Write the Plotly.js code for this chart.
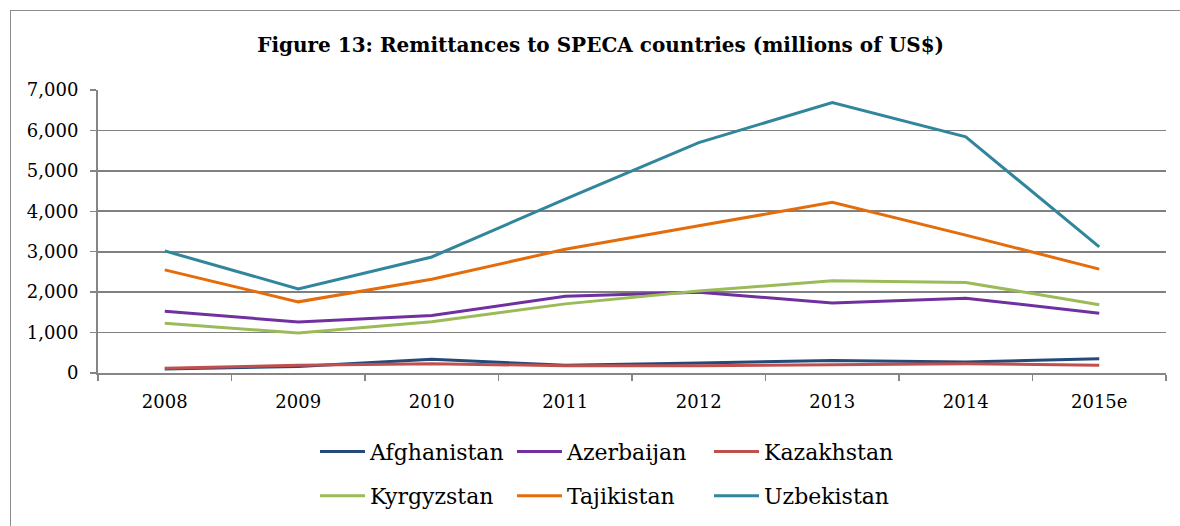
<!DOCTYPE html>
<html>
<head>
<meta charset="utf-8">
<script src="https://cdn.plot.ly/plotly-3.0.1.min.js"></script>
<style>
  html, body { margin: 0; padding: 0; background: white; }
  #graph { width: 1180px; height: 526px; }
  #frame {
    position: absolute; left: 10px; top: 10px; width: 1200px; height: 560px;
    border-left: 1.5px solid #8c8c8c; border-top: 1.5px solid #8c8c8c;
    pointer-events: none;
  }
</style>
</head>
<body>
<div id="graph"></div>
<div id="frame"></div>
<script>
const years = ['2008', '2009', '2010', '2011', '2012', '2013', '2014', '2015e'];

const afghanistan = [100, 160, 340, 190, 250, 310, 270, 350];
const azerbaijan  = [1530, 1260, 1420, 1900, 2000, 1730, 1850, 1480];
const kazakhstan  = [120, 190, 230, 180, 180, 210, 230, 190];
const kyrgyzstan  = [1230, 990, 1270, 1710, 2030, 2280, 2240, 1690];
const tajikistan  = [2550, 1760, 2320, 3060, 3640, 4220, 3410, 2570];
const uzbekistan  = [3020, 2080, 2870, 4300, 5700, 6690, 5840, 3120];

const seriesNames = ['Afghanistan', 'Azerbaijan', 'Kazakhstan', 'Kyrgyzstan', 'Tajikistan', 'Uzbekistan'];
const seriesValues = [afghanistan, azerbaijan, kazakhstan, kyrgyzstan, tajikistan, uzbekistan];
const seriesColors = ['#254A7A', '#7030A0', '#C0504D', '#9BBB59', '#E46C0A', '#31859C'];

const font = 'DejaVu Serif, Liberation Serif, serif';

// first row of legend in legend, second row in legend2
const traces = seriesNames.map((name, i) => ({
    x: years,
    y: seriesValues[i],
    name: name,
    type: 'scatter',
    mode: 'lines',
    line: { color: seriesColors[i], width: 3 },
    legend: i < 3 ? 'legend' : 'legend2',
}));

// draw Kazakhstan over Afghanistan like the original
const order = [0, 1, 3, 4, 5, 2];
const data = order.map(i => traces[i]);

const legendBase = {
    orientation: 'h',
    xref: 'container',
    yref: 'container',
    xanchor: 'left',
    x: 315 / 1180,
    yanchor: 'top',
    entrywidth: 137,
    entrywidthmode: 'pixels',
    itemwidth: 45,
    traceorder: 'normal',
    font: { family: font, size: 22, color: '#000' },
};

const layout = {
    width: 1180,
    height: 526,
    title: {
        text: '<b>Figure 13: Remittances to SPECA countries (millions of US$)</b>',
        font: { family: font, size: 20, color: '#000' },
        x: 0.509,
        xanchor: 'center',
        y: 0.915,
        yanchor: 'middle',
    },
    showlegend: true,
    legend: Object.assign({}, legendBase, { y: 0.181 }),
    legend2: Object.assign({}, legendBase, { y: 0.097 }),
    plot_bgcolor: 'white',
    paper_bgcolor: 'white',
    margin: { l: 98, r: 14, t: 90, b: 153 },
    xaxis: {
        type: 'category',
        range: [-0.5, 7.5],
        showgrid: false,
        showline: true,
        linecolor: '#868686',
        linewidth: 2,
        ticks: 'outside',
        tickson: 'boundaries',
        ticklen: 6,
        tickcolor: '#868686',
        tickwidth: 1.5,
        ticklabelstandoff: 11,
        tickfont: { family: font, size: 18, color: '#000' },
        fixedrange: true,
    },
    yaxis: {
        range: [0, 7000],
        dtick: 1000,
        tickformat: ',d',
        showgrid: true,
        gridcolor: '#808080',
        gridwidth: 1.6,
        showline: true,
        linecolor: '#868686',
        linewidth: 2,
        ticks: 'outside',
        ticklen: 6,
        tickcolor: '#868686',
        tickwidth: 1.5,
        ticklabelstandoff: 8,
        zeroline: false,
        tickfont: { family: font, size: 18, color: '#000' },
        fixedrange: true,
    },
};

const config = { displayModeBar: false, staticPlot: true };

Plotly.newPlot('graph', data, layout, config);
</script>
</body>
</html>
